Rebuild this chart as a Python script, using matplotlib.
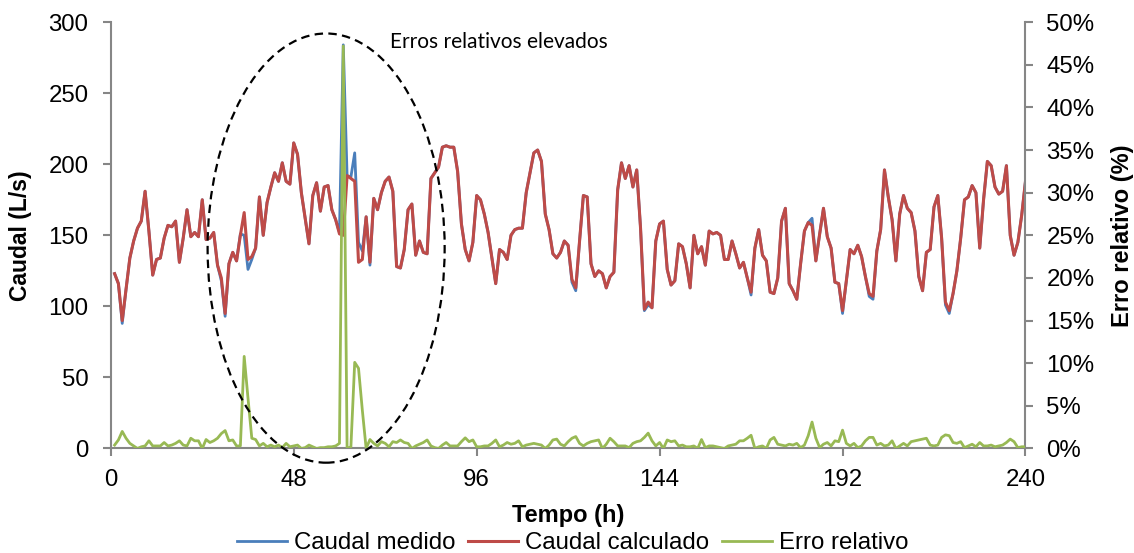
import matplotlib
matplotlib.use("Agg")
import matplotlib.pyplot as plt
from matplotlib.patches import Ellipse

plt.rcParams['font.family'] = ['Liberation Sans', 'DejaVu Sans']

horas = list(range(1, 241))

caudal_calculado = [
    123, 116, 90, 112, 134, 146, 155, 160, 181, 153,
    122, 133, 134, 148, 157, 156, 160, 131, 148, 168,
    149, 152, 149, 175, 147, 148, 152, 129, 120, 95,
    130, 138, 132, 150, 166, 133, 135, 141, 177, 150,
    173, 184, 194, 188, 201, 188, 186, 215, 207, 180,
    162, 144, 178, 187, 167, 184, 185, 168, 161, 151,
    150, 192, 190, 188, 131, 133, 163, 131, 176, 168,
    180, 188, 191, 181, 128, 127, 140, 168, 172, 136,
    146, 138, 137, 190, 194, 198, 212, 213, 212, 212,
    195, 158, 140, 132, 145, 178, 175, 165, 152, 134,
    116, 140, 138, 133, 150, 154, 155, 155, 180, 194,
    208, 210, 202, 165, 154, 137, 134, 138, 146, 143,
    119, 113, 146, 178, 177, 130, 121, 125, 123, 113,
    121, 124, 182, 201, 190, 199, 184, 196, 155, 98,
    103, 99, 146, 158, 160, 126, 115, 118, 144, 142,
    130, 113, 150, 137, 142, 129, 153, 151, 152, 150,
    133, 133, 146, 137, 127, 131, 120, 110, 141, 154,
    136, 132, 110, 109, 120, 160, 169, 116, 111, 105,
    130, 153, 159, 157, 132, 151, 169, 149, 141, 117,
    116, 97, 118, 140, 137, 143, 135, 121, 109, 107,
    139, 154, 196, 177, 161, 132, 165, 178, 169, 166,
    153, 121, 111, 138, 140, 170, 178, 148, 103, 97,
    109, 125, 148, 175, 177, 185, 180, 141, 175, 202,
    199, 184, 179, 181, 199, 150, 136, 145, 164, 188,
]

caudal_medido = [
    123, 116, 88, 112, 134, 146, 155, 160, 181, 153,
    122, 133, 134, 148, 157, 156, 160, 131, 148, 168,
    149, 152, 149, 175, 147, 148, 152, 129, 118, 93,
    130, 138, 132, 151, 150, 126, 133, 141, 177, 150,
    173, 184, 194, 188, 201, 188, 186, 215, 207, 180,
    162, 144, 178, 187, 167, 184, 185, 168, 161, 152,
    284, 192, 191, 208, 145, 139, 163, 129, 176, 168,
    180, 188, 191, 181, 128, 127, 140, 168, 172, 136,
    146, 138, 137, 190, 194, 198, 212, 213, 212, 212,
    195, 158, 140, 132, 145, 178, 175, 165, 152, 134,
    116, 140, 138, 133, 150, 154, 155, 155, 180, 194,
    208, 210, 202, 165, 154, 137, 134, 138, 146, 143,
    117, 111, 146, 178, 177, 130, 121, 125, 123, 113,
    121, 124, 182, 201, 190, 199, 184, 196, 155, 97,
    101, 99, 146, 158, 160, 126, 115, 118, 144, 142,
    130, 113, 150, 137, 142, 129, 153, 151, 152, 150,
    133, 133, 146, 137, 127, 131, 120, 108, 141, 154,
    136, 132, 110, 109, 120, 160, 169, 116, 111, 105,
    130, 153, 159, 162, 132, 151, 169, 149, 141, 117,
    116, 95, 118, 140, 137, 143, 135, 121, 107, 105,
    139, 154, 196, 177, 161, 132, 165, 178, 169, 166,
    153, 121, 111, 138, 140, 170, 178, 148, 101, 95,
    109, 125, 148, 175, 177, 185, 180, 141, 175, 202,
    199, 184, 179, 181, 199, 150, 136, 145, 164, 188,
]

erro_relativo = [
    0.4, 1.0, 2.0, 1.2, 0.6, 0.3, 0.0, 0.2, 0.3, 0.9,
    0.3, 0.3, 0.3, 0.7, 0.3, 0.4, 0.6, 0.9, 0.4, 0.3,
    1.2, 0.9, 0.9, 0.0, 1.05, 0.7, 0.9, 1.2, 1.75, 2.1,
    0.9, 1.0, 0.3, 0.3, 10.8, 5.9, 1.2, 1.05, 0.3, 0.6,
    0.2, 0.4, 0.2, 0.4, 0.1, 0.6, 0.2, 0.3, 0.4, 0.0,
    0.1, 0.4, 0.2, 0.0, 0.1, 0.1, 0.2, 0.2, 0.3, 0.6,
    47.2, 0.0, 0.2, 10.1, 9.4, 4.5, 0.0, 1.05, 0.6, 0.3,
    0.8, 0.6, 0.2, 0.8, 0.7, 1.0, 0.7, 0.6, 0.0, 0.3,
    0.5, 0.7, 1.0, 0.3, 0.1, 0.0, 0.4, 0.7, 0.3, 0.3,
    0.3, 0.8, 1.25, 0.8, 1.0, 0.2, 0.2, 0.3, 0.3, 0.6,
    1.0, 0.2, 0.4, 0.7, 0.5, 0.6, 0.9, 0.2, 0.4, 0.5,
    0.6, 0.5, 0.4, 0.0, 0.4, 1.0, 1.1, 0.5, 0.3, 0.8,
    1.2, 1.4, 0.6, 0.3, 0.6, 0.8, 0.9, 1.0, 0.0, 0.5,
    1.2, 0.8, 0.3, 0.3, 0.3, 0.1, 0.6, 0.8, 0.9, 1.3,
    1.8, 0.9, 0.3, 0.7, 0.0, 1.0, 0.8, 0.9, 0.3, 0.4,
    0.2, 0.2, 0.3, 0.0, 1.05, 0.1, 0.3, 0.3, 0.2, 0.1,
    0.0, 0.3, 0.4, 0.5, 0.9, 0.9, 1.2, 1.55, 0.0, 0.2,
    0.3, 0.0, 1.0, 1.3, 0.5, 0.4, 0.3, 0.5, 0.4, 0.6,
    0.1, 0.4, 1.5, 3.1, 1.2, 0.1, 0.5, 0.7, 0.3, 0.9,
    0.8, 2.15, 0.6, 0.3, 0.6, 0.1, 0.3, 0.9, 1.3, 1.3,
    0.4, 0.6, 0.3, 0.4, 0.9, 0.0, 0.3, 0.6, 0.3, 0.8,
    0.9, 1.0, 1.1, 1.2, 0.4, 0.3, 0.4, 1.3, 1.6, 1.5,
    0.7, 0.6, 0.8, 0.1, 0.3, 0.5, 0.2, 0.7, 0.3, 0.3,
    0.4, 0.2, 0.3, 0.4, 0.7, 1.1, 0.8, 0.1, 0.2, 0.2,
]

x_ticks = [0, 48, 96, 144, 192, 240]
y_ticks = [0, 50, 100, 150, 200, 250, 300]
y2_ticks = [0, 5, 10, 15, 20, 25, 30, 35, 40, 45, 50]
y2_labels = [f"{v}%" for v in y2_ticks]

cor_medido = "#4A7EBB"
cor_calc = "#BE4B48"
cor_erro = "#98B954"
cor_eixo = "#868686"

fig = plt.figure(figsize=(11.34, 5.53), dpi=100)
ax = fig.add_axes([0.0977, 0.189, 0.8066, 0.771])
ax2 = ax.twinx()

l1, = ax.plot(horas, caudal_medido, color=cor_medido, lw=2.0, label="Caudal medido", zorder=2)
l2, = ax.plot(horas, caudal_calculado, color=cor_calc, lw=2.2, label="Caudal calculado", zorder=3)
l3, = ax2.plot(horas, erro_relativo, color=cor_erro, lw=2.0, label="Erro relativo", zorder=3)

ax.set_xlim(0, 240)
ax.set_ylim(0, 300)
ax2.set_ylim(0, 50)
ax.set_xticks(x_ticks)
ax.set_yticks(y_ticks)
ax2.set_yticks(y2_ticks)
ax2.set_yticklabels(y2_labels)

for a in (ax, ax2):
    for s in a.spines.values():
        s.set_color(cor_eixo)
        s.set_linewidth(1.5)
    a.spines['top'].set_visible(False)
ax.spines['right'].set_visible(False)
ax2.spines['left'].set_visible(False)
ax2.spines['bottom'].set_visible(False)

ax.tick_params(axis='both', colors=cor_eixo, labelcolor='black', labelsize=17.3,
               length=6, width=1.5, direction='out')
ax.tick_params(axis='y', pad=10)
ax.tick_params(axis='x', pad=9)
ax2.tick_params(axis='y', colors=cor_eixo, labelcolor='black', labelsize=17.3,
                length=6, width=1.5, direction='out', pad=9)

ax.set_xlabel("Tempo (h)", fontsize=17, fontweight='bold', labelpad=9)
ax.set_ylabel("Caudal (L/s)", fontsize=16.5, fontweight='bold', labelpad=12)
ax2.set_ylabel("Erro relativo (%)", fontsize=17, fontweight='bold', labelpad=12)

ell = Ellipse((56.5, 141), width=62.2, height=302, transform=ax.transData,
              fill=False, edgecolor='black', lw=1.6, linestyle=(0, (3.8, 2.4)),
              clip_on=False, zorder=5)
ax2.add_patch(ell)

ax2.text(73.3, 286, "Erros relativos elevados", transform=ax.transData,
         fontsize=15, family=['Lato', 'DejaVu Sans'], va='center', ha='left')

fig.legend(handles=[l1, l2, l3], loc='lower center', bbox_to_anchor=(0.505, -0.041),
           ncol=3, frameon=False, fontsize=17.3, handlelength=2.1,
           handletextpad=0.3, columnspacing=0.5)

fig.savefig("out.png", dpi=100)
